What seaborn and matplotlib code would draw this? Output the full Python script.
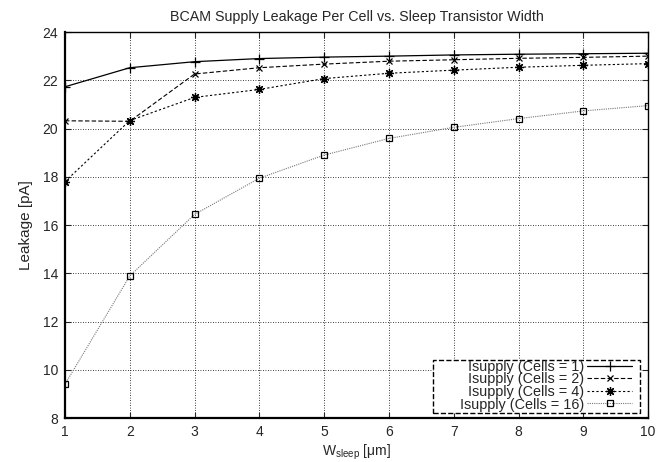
import matplotlib
matplotlib.use("Agg")
import matplotlib.pyplot as plt
from matplotlib.patches import Rectangle
import seaborn as sns
import pandas as pd

widths = [1, 2, 3, 4, 5, 6, 7, 8, 9, 10]
cells1 = [21.73, 22.52, 22.77, 22.9, 22.96, 23.0, 23.05, 23.08, 23.1, 23.12]
cells2 = [20.32, 20.3, 22.26, 22.52, 22.67, 22.79, 22.85, 22.91, 22.95, 23.0]
cells4 = [17.8, 20.33, 21.29, 21.62, 22.07, 22.29, 22.42, 22.54, 22.62, 22.69]
cells16 = [9.4, 13.89, 16.44, 17.94, 18.9, 19.59, 20.05, 20.41, 20.73, 20.95]
labels = ["Isupply (Cells = 1)", "Isupply (Cells = 2)",
          "Isupply (Cells = 4)", "Isupply (Cells = 16)"]
series = [cells1, cells2, cells4, cells16]
xticks = list(range(1, 11))
yticks = list(range(8, 25, 2))

sns.set_style("ticks")
plt.rcParams['font.family'] = ['Liberation Sans', 'DejaVu Sans']
plt.rcParams['mathtext.fontset'] = 'custom'
plt.rcParams['mathtext.rm'] = 'Liberation Sans'
plt.rcParams['mathtext.it'] = 'Liberation Sans'

fig = plt.figure(figsize=(6.65, 4.62), dpi=100)
ax = fig.add_axes([0.0977, 0.0952, 0.877, 0.8355])

styles = [
    dict(color="black", linestyle="-", marker="+", markersize=7, linewidth=0.9),
    dict(color="black", linestyle=(0, (4, 2)), marker="x", markersize=5, linewidth=0.8),
    dict(color="black", linestyle=(0, (2, 2)), marker=(8, 2, 0), markersize=6.5, linewidth=0.8),
    dict(color="#777777", linestyle=(0, (1, 1)), marker="s", markersize=5, linewidth=0.8,
         markerfacecolor="none"),
]

for vals, lab, st in zip(series, labels, styles):
    df = pd.DataFrame({"w": widths, "leak": vals})
    sns.lineplot(data=df, x="w", y="leak", ax=ax, label=lab,
                 markeredgewidth=0.9, markeredgecolor="black", **st)

ax.set_xlim(1, 10)
ax.set_ylim(8, 24)
ax.set_xticks(xticks)
ax.set_yticks(yticks)
ax.grid(True, color="black", linestyle=(0, (1, 2)), linewidth=0.6)
ax.tick_params(direction="in", top=True, right=True, labelsize=10, length=4, width=0.8, pad=5)
for sp in ax.spines.values():
    sp.set_linewidth(1.0)
    sp.set_color("black")
ax.spines["left"].set_linewidth(1.6)
ax.spines["bottom"].set_linewidth(1.6)

ax.set_title("BCAM Supply Leakage Per Cell vs. Sleep Transistor Width", fontsize=10.3, pad=8)
ax.set_xlabel("W$_{\\mathrm{sleep}}$ [\u03bcm]", fontsize=10, labelpad=3)
ax.set_ylabel("Leakage [pA]", fontsize=11, labelpad=7)

box = Rectangle((0.631, 0.013), 0.355, 0.137, transform=ax.transAxes,
                facecolor="white", edgecolor="black", linestyle="--", linewidth=1.0,
                zorder=4.5)
ax.add_patch(box)

leg = ax.legend(loc="lower right", bbox_to_anchor=(0.975, 0.013), markerfirst=False,
                fontsize=10.4, frameon=False, borderpad=0.1,
                labelspacing=-0.1, handlelength=3.1, handletextpad=0.25,
                borderaxespad=0)
leg.set_zorder(6)
for t in leg.get_texts():
    t.set_ha("right")

fig.savefig("out.png", dpi=100)
